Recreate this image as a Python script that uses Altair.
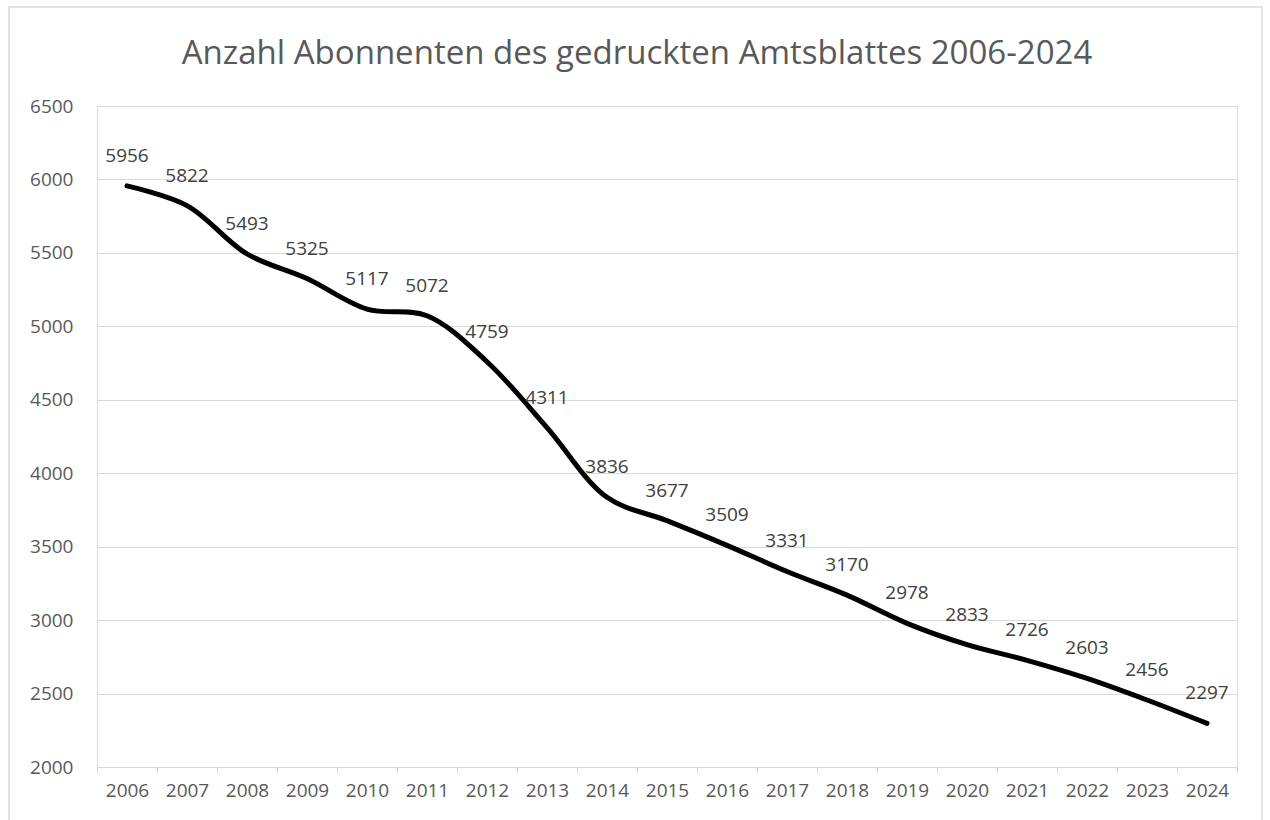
import altair as alt
import pandas as pd

years = [str(y) for y in range(2006, 2025)]
subscribers = [5956, 5822, 5493, 5325, 5117, 5072, 4759, 4311, 3836, 3677,
               3509, 3331, 3170, 2978, 2833, 2726, 2603, 2456, 2297]
y_ticks = [2000, 2500, 3000, 3500, 4000, 4500, 5000, 5500, 6000, 6500]
title_text = "Anzahl Abonnenten des gedruckten Amtsblattes 2006-2024"

df = pd.DataFrame({"Jahr": years, "Abonnenten": subscribers})

FONT = "Open Sans"
GRAY = "#595959"
LIGHT = "#d9d9d9"

x_enc = alt.X("Jahr:O", sort=years, title=None,
              scale=alt.Scale(paddingInner=0, paddingOuter=0),
              axis=alt.Axis(labelAngle=0, grid=False, tickBand="extent",
                            domainColor=LIGHT, tickColor=LIGHT, tickSize=6,
                            labelPadding=8, labelFontSize=19, labelFont=FONT,
                            labelColor=GRAY))
y_enc = alt.Y("Abonnenten:Q", title=None,
              scale=alt.Scale(domain=[2000, 6500], nice=False, zero=False),
              axis=alt.Axis(values=y_ticks, grid=True, gridColor=LIGHT,
                            format="d",
                            ticks=False, domain=False, labelPadding=24,
                            labelFontSize=19, labelFont=FONT, labelColor=GRAY))

base = alt.Chart(df)

border = base.mark_rect(fill=None, stroke=LIGHT, strokeWidth=1.5).encode(
    x=alt.value(-88), x2=alt.value(1165), y=alt.value(-99), y2=alt.value(730)
).transform_filter(alt.datum.Jahr == "2006")

line = base.mark_line(color="black", strokeWidth=5, interpolate="catmull-rom",
                      strokeCap="round").encode(x=x_enc, y=y_enc)

labels = base.mark_text(dy=-30, fontSize=19, font=FONT, color="#404040",
                        baseline="middle", align="center").encode(
    x=alt.X("Jahr:O", sort=years), y="Abonnenten:Q",
    text="Abonnenten:Q")

chart = alt.layer(border, line, labels).properties(
    width=1140, height=661,
    autosize=alt.AutoSizeParams(type="none"),
    padding={"left": 97, "top": 106, "right": 33, "bottom": 53},
    title=alt.TitleParams(title_text, fontSize=33, font=FONT, color=GRAY,
                          fontWeight="normal", anchor="middle", dx=-30,
                          offset=-65),
).configure_view(stroke=None).configure(background="white")

chart.save("out.html", embed_options={"renderer": "svg", "actions": False})
